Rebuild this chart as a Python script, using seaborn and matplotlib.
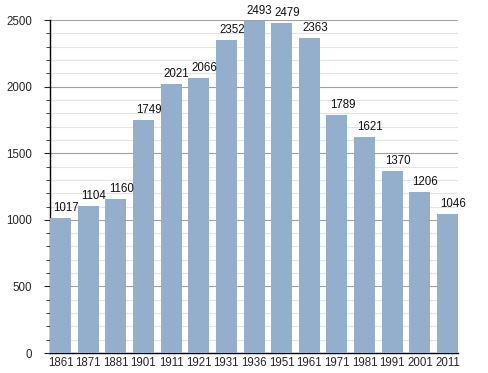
import matplotlib
matplotlib.use("Agg")
import matplotlib.pyplot as plt
import pandas as pd
import seaborn as sns
from matplotlib.ticker import MultipleLocator

years = ['1861', '1871', '1881', '1901', '1911', '1921', '1931', '1936',
         '1951', '1961', '1971', '1981', '1991', '2001', '2011']
population = [1017, 1104, 1160, 1749, 2021, 2066, 2352, 2493,
              2479, 2363, 1789, 1621, 1370, 1206, 1046]

df = pd.DataFrame({'Year': years, 'Population': population})

sns.set_style('white')
plt.rcParams['font.family'] = ['Liberation Sans', 'DejaVu Sans']

fig = plt.figure(figsize=(4.88, 3.73), dpi=100)
ax = fig.add_axes([0.1025, 0.0536, 0.836, 0.8924])

sns.barplot(data=df, x='Year', y='Population', color='#94afcb', saturation=1,
            width=0.76, linewidth=0, ax=ax, zorder=3)

# value labels sit a bit right of the bar centre, like the original
for i, v in enumerate(population):
    ax.text(i + 0.2, v + 30, str(v), ha='center', va='bottom', fontsize=8.3,
            color='#111111', zorder=4)

n = len(years)
ax.set_xlim(-0.38, n - 1 + 0.38)
ax.set_ylim(0, 2500)
ax.yaxis.set_major_locator(MultipleLocator(500))
ax.yaxis.set_minor_locator(MultipleLocator(100))
ax.grid(axis='y', which='major', color='#a0a0a0', linewidth=0.8, zorder=0)
ax.grid(axis='y', which='minor', color='#e4e4e4', linewidth=0.8, zorder=0)
ax.set_axisbelow(True)

for s in ['top', 'right']:
    ax.spines[s].set_visible(False)
ax.spines['left'].set_color('black')
ax.spines['bottom'].set_color('black')
ax.spines['left'].set_linewidth(1)
ax.spines['bottom'].set_linewidth(1)

ax.tick_params(axis='y', which='major', direction='out', length=4, width=0.8,
               labelsize=8.3, left=True, pad=9)
ax.tick_params(axis='y', which='minor', direction='out', length=3, width=0.6,
               left=True)
ax.tick_params(axis='x', length=0, labelsize=8.3, pad=3)
ax.set_xlabel('')
ax.set_ylabel('')

fig.savefig('out.png', dpi=100)
